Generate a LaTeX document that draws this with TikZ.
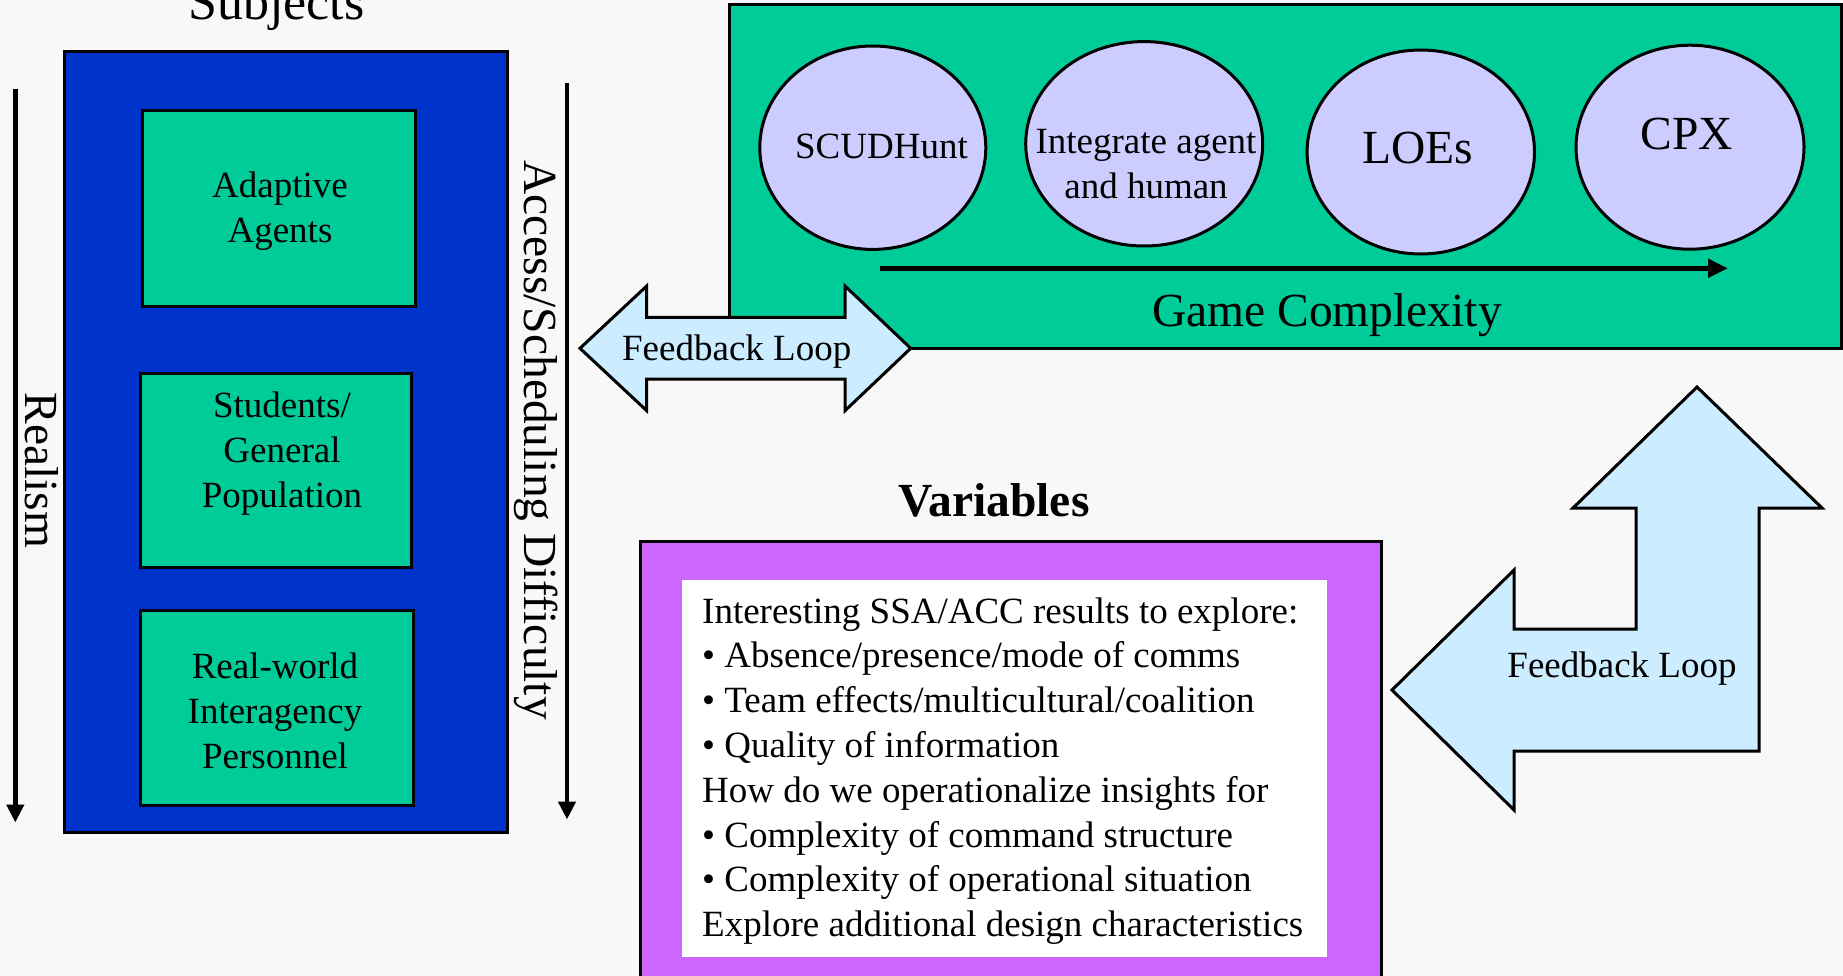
\documentclass[tikz,border=0pt]{standalone}
\usepackage{fontspec}
\setmainfont{Liberation Serif}
\usetikzlibrary{shapes.geometric,arrows.meta}
\definecolor{bgc}{HTML}{F8F8F8}
\definecolor{blueC}{HTML}{0033CC}
\definecolor{greenC}{HTML}{00CC99}
\definecolor{ovalC}{HTML}{CCCCFF}
\definecolor{arrowC}{HTML}{CCECFF}
\definecolor{purpleC}{HTML}{CC66FF}
\begin{document}
\begin{tikzpicture}[x=1pt,y=-1pt,
  box/.style={draw=black, line width=3pt, inner sep=0pt},
  oval/.style={ellipse, draw=black, line width=3pt, fill=ovalC, inner sep=0pt},
  small/.style={font=\fontsize{37}{44.8}\selectfont, inner sep=0pt},
  big/.style={font=\fontsize{47.5}{57}\selectfont, inner sep=0pt},
  blockarrow/.style={draw=black, line width=3pt, fill=arrowC, line join=miter},
  conn/.style={line width=4.5pt, -{Triangle[length=18pt,width=17pt]}}]
\useasboundingbox (0,0) rectangle (1843,976);
\fill[bgc] (0,0) rectangle (1843,976);

% Subjects column
\node[big, anchor=base, font=\fontsize{52}{60}\selectfont] (subjT) at (276.5,20) {Subjects};
\node[box, fill=blueC, minimum width=443pt, minimum height=780pt] (subj) at (285.5,442) {};
\node[box, fill=greenC, minimum width=272.5pt, minimum height=195.3pt] (agents) at (279,208.4) {};
\node[box, fill=greenC, minimum width=271.8pt, minimum height=194.4pt] (students) at (275.9,470.5) {};
\node[box, fill=greenC, minimum width=272.5pt, minimum height=195pt] (real) at (277,707.5) {};
\node[small, anchor=base, align=center] (agentsT) at (280,242.7) {Adaptive\\Agents};
\node[small, anchor=base, align=center] (studentsT) at (282,507) {Students/\\General\\Population};
\node[small, anchor=base, align=center] (realT) at (275,768) {Real-world\\Interagency\\Personnel};

% Realism arrow
\coordinate (rtop) at (15.3,89);
\coordinate (rbot) at (15.3,822.5);
\draw[conn] (rtop) -- (rbot);
\node[big, rotate=-90, anchor=base] (realismT) at (25,470.5) {Realism};

% Access arrow
\coordinate (atop) at (567,83);
\coordinate (abot) at (567,819.5);
\draw[conn] (atop) -- (abot);
\node[big, rotate=-90, anchor=base] (accessT) at (524,440) {Access/Scheduling Difficulty};

% Game complexity box
\node[box, fill=greenC, minimum width=1112pt, minimum height=343pt] (game) at (1285,176.5) {};
\node[oval, minimum width=226pt, minimum height=203.4pt] (scud) at (872.8,147.7) {};
\node[oval, minimum width=237pt, minimum height=204.4pt] (integ) at (1144.2,143.8) {};
\node[oval, minimum width=227.4pt, minimum height=204pt] (loes) at (1420.8,152) {};
\node[oval, minimum width=228pt, minimum height=204pt] (cpx) at (1690,147.2) {};
\node[small, anchor=base] (scudT) at (881.5,158.3) {SCUDHunt};
\node[small, anchor=base, align=center] (integT) at (1146,198.3) {Integrate agent\\and human};
\node[big, anchor=base] (loesT) at (1418,163.3) {LOEs};
\node[big, anchor=base] (cpxT) at (1687,149.3) {CPX};
\coordinate (gs) at (880,268.3);
\coordinate (ge) at (1728,268.3);
\draw[line width=5pt, -{Triangle[length=20pt,width=18pt]}] (gs) -- (ge);
\node[big, anchor=base] (gameT) at (1327,326.7) {Game Complexity};

% Feedback double arrow
\draw[blockarrow] (580,348.3) -- (646.7,286) -- (646.7,317.3) -- (845,317.3) -- (845,286)
  -- (910.7,348.3) -- (845,410.7) -- (845,379) -- (646.7,379) -- (646.7,410.7) -- cycle;
\node[small, anchor=base] (fb1T) at (736.7,360) {Feedback Loop};

% Variables
\node[big, anchor=base, font=\fontsize{47.5}{57}\selectfont\bfseries] (varT) at (994,516.7) {Variables};
\node[box, fill=purpleC, minimum width=741pt, minimum height=460pt, anchor=north west] (vars) at (639,540) {};
\node[fill=white, inner sep=0pt, minimum width=645pt, minimum height=377pt, anchor=north west] (varsin) at (682,580) {};
\node[small, anchor=base west, align=left] (varsT) at (702,936.7) {Interesting SSA/ACC results to explore:\\
• Absence/presence/mode of comms\\
• Team effects/multicultural/coalition\\
• Quality of information\\
How do we operationalize insights for\\
• Complexity of command structure\\
• Complexity of operational situation\\
Explore additional design characteristics};

% Bent feedback arrow
\draw[blockarrow] (1697,387) -- (1822,508) -- (1759,508) -- (1759,751) -- (1514,751) -- (1514,810)
  -- (1392,690) -- (1514,570) -- (1514,629) -- (1636,629) -- (1636,508) -- (1573,508) -- cycle;
\node[small, anchor=base] (fb2T) at (1622,677) {Feedback Loop};
\end{tikzpicture}
\end{document}
